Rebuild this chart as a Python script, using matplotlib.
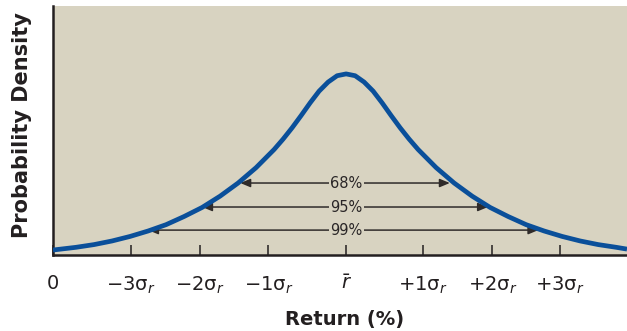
import matplotlib
matplotlib.use("Agg")
import matplotlib.pyplot as plt

# Curve (x in sigma units from the mean, density)
curve_x = [-4.07, -3.75, -3.5, -3.25, -3.0, -2.75, -2.5, -2.25, -2.0, -1.75,
           -1.5, -1.25, -1.0, -0.875, -0.75, -0.625, -0.5, -0.375, -0.25, -0.125,
           0.0, 0.125, 0.25, 0.375, 0.5, 0.625, 0.75, 0.875, 1.0, 1.25,
           1.5, 1.75, 2.0, 2.25, 2.5, 2.75, 3.0, 3.25, 3.5, 3.75, 3.9]
curve_y = [0.011, 0.017, 0.023, 0.031, 0.041, 0.053, 0.067, 0.085, 0.105, 0.130,
           0.159, 0.193, 0.233, 0.256, 0.281, 0.308, 0.336, 0.362, 0.382, 0.396,
           0.400, 0.396, 0.382, 0.362, 0.336, 0.308, 0.281, 0.256, 0.233, 0.193,
           0.159, 0.130, 0.105, 0.085, 0.067, 0.053, 0.041, 0.031, 0.023, 0.017, 0.013]

# Interval arrows: label, level, left end, right end
band_labels = ["68%", "95%", "99%"]
band_level = [0.159, 0.106, 0.055]
band_left = [-1.47, -2.00, -2.75]
band_right = [1.44, 1.97, 2.67]

tick_pos = [-4.07, -2.99, -2.03, -1.08, 0.0, 1.07, 2.03, 2.97]
tick_labels = ["0", r"$\mathrm{-3σ}_{r}$", r"$\mathrm{-2σ}_{r}$", r"$\mathrm{-1σ}_{r}$",
               r"$\bar{r}$", r"$\mathrm{+1σ}_{r}$", r"$\mathrm{+2σ}_{r}$", r"$\mathrm{+3σ}_{r}$"]

bg = "#d8d3c1"
blue = "#0a4f9a"
dark = "#231f20"

plt.rcParams["font.family"] = ["DejaVu Sans"]
plt.rcParams["mathtext.fontset"] = "dejavusans"

fig = plt.figure(figsize=(6.27, 3.31), dpi=100)
ax = fig.add_axes([53 / 627, 76 / 331, 574 / 627, 249 / 331])
ax.set_facecolor(bg)
ax.plot(curve_x, curve_y, color=blue, lw=3.4, solid_capstyle="butt", solid_joinstyle="round", zorder=3)

for lab, lev, l, r in zip(band_labels, band_level, band_left, band_right):
    for end in (l, r):
        ax.annotate("", xy=(end, lev), xytext=(0, lev),
                    arrowprops=dict(arrowstyle="-|>,head_length=0.6,head_width=0.25",
                                    color="#2f2b2a", lw=1.1, shrinkA=0, shrinkB=0), zorder=2)
    ax.text(0, lev, lab, ha="center", va="center", fontsize=10.5, color="#2a2627",
            bbox=dict(facecolor=bg, edgecolor="none", pad=1.0), zorder=4)

ax.set_xlim(-4.07, 3.90)
ax.set_ylim(0, 0.550)
ax.set_yticks([])
ax.set_xticks(tick_pos)
ax.set_xticklabels(tick_labels, fontsize=14, color=dark)
ax.tick_params(axis="x", direction="in", length=7, width=1.1, color=dark, pad=14)
for s in ["top", "right"]:
    ax.spines[s].set_visible(False)
for s in ["left", "bottom"]:
    ax.spines[s].set_color(dark)
    ax.spines[s].set_linewidth(1.8)

fig.text(345 / 627, 1 - 320 / 331, "Return (%)", ha="center", va="center",
         fontsize=14, fontweight="bold", color=dark)
fig.text(22 / 627, 1 - 125 / 331, "Probability Density", ha="center", va="center",
         rotation=90, fontsize=15, fontweight="bold", color=dark)

fig.savefig("out.png", dpi=100, facecolor="white")
